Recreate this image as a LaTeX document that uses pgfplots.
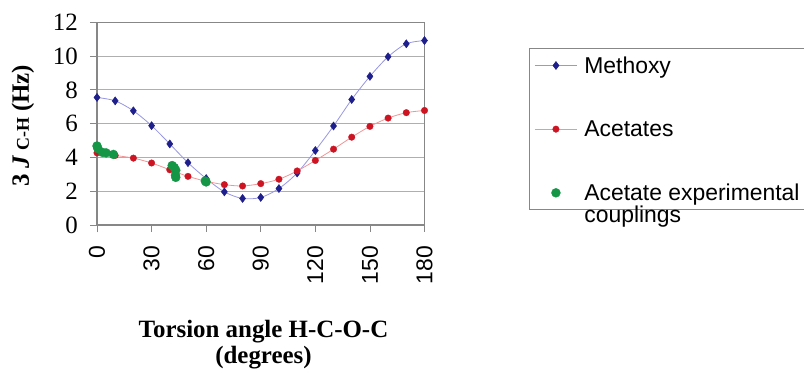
\documentclass[border=0pt]{standalone}
\usepackage{fontspec}
\setmainfont{Liberation Serif}
\setsansfont{Liberation Sans}
\usepackage{pgfplots}
\pgfplotsset{compat=1.18}
\definecolor{mblue}{RGB}{30,30,140}
\definecolor{lblue}{RGB}{150,150,225}
\definecolor{mred}{RGB}{205,20,35}
\definecolor{lred}{RGB}{240,150,150}
\definecolor{mgreen}{RGB}{20,150,70}
\definecolor{frame}{RGB}{135,135,135}
\definecolor{gridc}{RGB}{175,175,175}
\begin{document}
\begin{tikzpicture}[x=1bp,y=1bp]
\path[use as bounding box] (-97,-147) rectangle (707,225);
\begin{axis}[
  at={(0,0)}, anchor=south west,
  scale only axis, width=327.5bp, height=202.7bp,
  xmin=0, xmax=180, ymin=0, ymax=12,
  xtick={0,30,...,180}, ytick={0,2,...,12},
  axis line style={frame, line width=1.2bp},
  ymajorgrids, grid style={gridc, line width=0.8bp},
  tick align=outside, major tick length=7bp,
  tick style={frame, line width=0.8bp},
  xtick pos=bottom, ytick pos=left,
  /pgf/number format/assume math mode=true,
  yticklabel style={font=\fontsize{25}{25}\selectfont, inner sep=0pt, xshift=-12bp},
  xticklabel style={font=\sffamily\fontsize{23}{23}\selectfont, rotate=90, anchor=east, inner sep=0pt, xshift=-14bp},
  clip=false,
  legend image code/.code={\draw[mark repeat=2,mark phase=2,#1] plot coordinates {(0bp,0bp) (21bp,0bp) (42bp,0bp)};},
  legend style={at={(1.3195,0.873)}, anchor=north west, draw=frame, line width=0.8bp,
    font=\sffamily\fontsize{23}{23}\selectfont, inner xsep=5bp, inner ysep=6bp,
    row sep=42bp, column sep=5bp, cells={anchor=west}},
  legend cell align=left,
]
\addplot[lblue, line width=0.8bp, smooth, mark=diamond*, mark size=4bp,
  mark options={mblue, fill=mblue, line width=0.5bp}]
coordinates {
(0,7.55) (10,7.35) (20,6.76) (30,5.88) (40,4.80) (50,3.69) (60,2.75) (70,1.96)
(80,1.57) (90,1.63) (100,2.16) (110,3.08) (120,4.41) (130,5.86) (140,7.43)
(150,8.80) (160,9.96) (170,10.73) (180,10.92)};
\addlegendentry{Methoxy}
\addplot[lred, line width=0.8bp, smooth, mark=*, mark size=3.3bp,
  mark options={mred, fill=mred, line width=0.3bp}]
coordinates {
(0,4.27) (10,4.12) (20,3.96) (30,3.67) (40,3.27) (50,2.88) (60,2.59) (70,2.39)
(80,2.31) (90,2.45) (100,2.71) (110,3.20) (120,3.82) (130,4.49) (140,5.20)
(150,5.84) (160,6.33) (170,6.65) (180,6.78)};
\addlegendentry{Acetates}
\addplot[only marks, mark=*, mark size=4.5bp, mark options={mgreen, fill=mgreen, line width=0.3bp}]
coordinates {
(0,4.68) (0.5,4.52) (3,4.30) (5,4.27) (9,4.18) (41.3,3.52) (42.5,3.40) (43.3,3.24)
(43.1,2.95) (43.3,2.82) (59.5,2.61) (60,2.55)};
\addlegendentry{\parbox[t]{245bp}{Acetate experimental\\[-1bp]couplings\rule[-16bp]{0pt}{16bp}}}
\end{axis}
\draw[frame, line width=0.8bp] (0,-7) -- (0,0);
\node[rotate=90, anchor=west, inner sep=0pt, font=\bfseries\fontsize{25}{25}\selectfont] at (-74,38)
  {3 \textit{J}\,{\fontsize{18}{18}\selectfont C-H} (Hz)};
\node[font=\bfseries\fontsize{25}{25}\selectfont, anchor=base] at (166.5,-112) {Torsion angle H-C-O-C};
\node[font=\bfseries\fontsize{25}{25}\selectfont, anchor=base] at (166.5,-138) {(degrees)};
\end{tikzpicture}
\end{document}
